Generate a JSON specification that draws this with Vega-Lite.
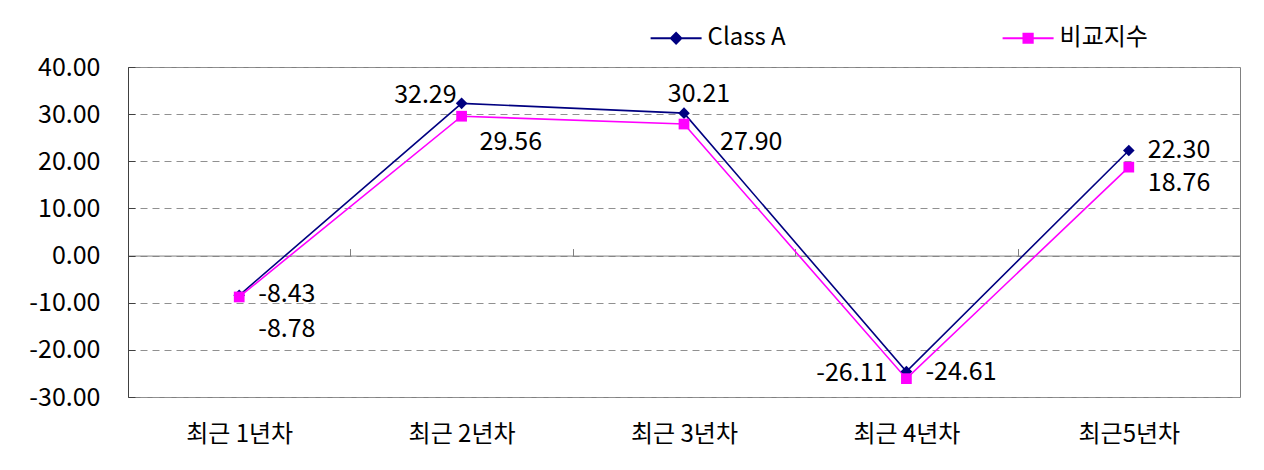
{
  "$schema": "https://vega.github.io/schema/vega-lite/v6.json",
  "width": 1112,
  "height": 330,
  "autosize": "none",
  "padding": {"left": 128, "top": 67, "right": 24, "bottom": 73},
  "background": "white",
  "config": {
    "font": "Noto Sans CJK KR",
    "locale": {"number": {"decimal": ".", "thousands": ",", "grouping": [3], "currency": ["$", ""], "minus": "-"}},
    "view": {"stroke": "#808080", "strokeWidth": 1},
    "axis": {"labelFont": "Noto Sans CJK KR", "labelFontSize": 24, "labelColor": "#000000"},
    "legend": {"padding": 0}
  },
  "data": {
    "values": [
      {"period": "최근 1년차", "series": "Class A", "value": -8.43},
      {"period": "최근 2년차", "series": "Class A", "value": 32.29},
      {"period": "최근 3년차", "series": "Class A", "value": 30.21},
      {"period": "최근 4년차", "series": "Class A", "value": -24.61},
      {"period": "최근5년차", "series": "Class A", "value": 22.30},
      {"period": "최근 1년차", "series": "비교지수", "value": -8.78},
      {"period": "최근 2년차", "series": "비교지수", "value": 29.56},
      {"period": "최근 3년차", "series": "비교지수", "value": 27.90},
      {"period": "최근 4년차", "series": "비교지수", "value": -26.11},
      {"period": "최근5년차", "series": "비교지수", "value": 18.76}
    ]
  },
  "encoding": {
    "x": {
      "field": "period", "type": "nominal", "sort": null,
      "scale": {"type": "band", "paddingInner": 0, "paddingOuter": 0},
      "axis": {
        "title": null, "orient": "bottom", "offset": -141.43,
        "domainColor": "#808080", "tickColor": "#808080", "tickSize": -7,
        "tickBand": "extent", "labelPadding": 186, "labelBaseline": "middle",
        "labelAngle": 0, "grid": false
      }
    },
    "y": {
      "field": "value", "type": "quantitative",
      "scale": {"domain": [-30, 40], "nice": false, "zero": false},
      "axis": {
        "title": null, "values": [-30, -20, -10, 0, 10, 20, 30, 40], "format": ".2f",
        "grid": true, "gridDash": [7, 5], "gridColor": "#909090",
        "domainColor": "#404040", "tickColor": "#404040", "tickSize": -7,
        "labelPadding": 35, "labelFontSize": 25
      }
    }
  },
  "layer": [
    {
      "mark": {"type": "line", "strokeWidth": 1.6},
      "encoding": {
        "color": {
          "field": "series", "type": "nominal",
          "scale": {"domain": ["Class A", "비교지수"], "range": ["#000080", "#FF00FF"]},
          "legend": {
            "orient": "none", "legendX": 522.6, "legendY": -54.5, "direction": "horizontal",
            "title": null, "labelFontSize": 24, "labelFont": "Noto Sans CJK KR", "labelColor": "#000000",
            "symbolSize": 2601, "labelOffset": 6, "columnPadding": 216, "symbolStrokeWidth": 0,
            "encode": {
              "symbols": {
                "update": {
                  "shape": {"signal": "datum.value === 'Class A' ? 'M-1,-0.035H1V0.035H-1Z M-0.26,0L0,-0.26L0.26,0L0,0.26Z' : 'M-1,-0.035H1V0.035H-1Z M-0.22,-0.22H0.22V0.22H-0.22Z'"},
                  "fill": {"signal": "scale('color', datum.value)"},
                  "fillOpacity": {"value": 1},
                  "opacity": {"value": 1},
                  "strokeWidth": {"value": 0}
                }
              }
            }
          }
        }
      }
    },
    {
      "transform": [{"filter": "datum.series === 'Class A'"}],
      "mark": {"type": "point", "filled": true, "opacity": 1, "size": 135, "shape": "diamond", "color": "#000080"}
    },
    {
      "transform": [{"filter": "datum.series === '비교지수'"}],
      "mark": {"type": "point", "filled": true, "opacity": 1, "size": 115, "shape": "square", "color": "#FF00FF"}
    },
    {
      "transform": [{"filter": "datum.series === 'Class A' && (datum.period === '최근 4년차' || datum.period === '최근5년차')"}],
      "mark": {"type": "text", "align": "left", "baseline": "middle", "dx": 19, "dy": 0, "fontSize": 25, "font": "Noto Sans CJK KR", "color": "#000000"},
      "encoding": {"text": {"field": "value", "type": "quantitative", "format": ".2f"}}
    },
    {
      "transform": [{"filter": "datum.series === 'Class A' && datum.period === '최근 1년차'"}],
      "mark": {"type": "text", "align": "left", "baseline": "middle", "dx": 19, "dy": -1, "fontSize": 25, "font": "Noto Sans CJK KR", "color": "#000000"},
      "encoding": {"text": {"field": "value", "type": "quantitative", "format": ".2f"}}
    },
    {
      "transform": [{"filter": "datum.series === 'Class A' && datum.period === '최근 2년차'"}],
      "mark": {"type": "text", "align": "right", "baseline": "middle", "dx": -5, "dy": -8, "fontSize": 25, "font": "Noto Sans CJK KR", "color": "#000000"},
      "encoding": {"text": {"field": "value", "type": "quantitative", "format": ".2f"}}
    },
    {
      "transform": [{"filter": "datum.series === 'Class A' && datum.period === '최근 3년차'"}],
      "mark": {"type": "text", "align": "center", "baseline": "middle", "dx": 15, "dy": -19, "fontSize": 25, "font": "Noto Sans CJK KR", "color": "#000000"},
      "encoding": {"text": {"field": "value", "type": "quantitative", "format": ".2f"}}
    },
    {
      "transform": [{"filter": "datum.series === '비교지수' && datum.period === '최근 1년차'"}],
      "mark": {"type": "text", "align": "left", "baseline": "middle", "dx": 19, "dy": 32, "fontSize": 25, "font": "Noto Sans CJK KR", "color": "#000000"},
      "encoding": {"text": {"field": "value", "type": "quantitative", "format": ".2f"}}
    },
    {
      "transform": [{"filter": "datum.series === '비교지수' && datum.period === '최근 2년차'"}],
      "mark": {"type": "text", "align": "left", "baseline": "middle", "dx": 18, "dy": 26, "fontSize": 25, "font": "Noto Sans CJK KR", "color": "#000000"},
      "encoding": {"text": {"field": "value", "type": "quantitative", "format": ".2f"}}
    },
    {
      "transform": [{"filter": "datum.series === '비교지수' && datum.period === '최근 3년차'"}],
      "mark": {"type": "text", "align": "left", "baseline": "middle", "dx": 36, "dy": 18, "fontSize": 25, "font": "Noto Sans CJK KR", "color": "#000000"},
      "encoding": {"text": {"field": "value", "type": "quantitative", "format": ".2f"}}
    },
    {
      "transform": [{"filter": "datum.series === '비교지수' && datum.period === '최근 4년차'"}],
      "mark": {"type": "text", "align": "right", "baseline": "middle", "dx": -19, "dy": -6, "fontSize": 25, "font": "Noto Sans CJK KR", "color": "#000000"},
      "encoding": {"text": {"field": "value", "type": "quantitative", "format": ".2f"}}
    },
    {
      "transform": [{"filter": "datum.series === '비교지수' && datum.period === '최근5년차'"}],
      "mark": {"type": "text", "align": "left", "baseline": "middle", "dx": 19, "dy": 16, "fontSize": 25, "font": "Noto Sans CJK KR", "color": "#000000"},
      "encoding": {"text": {"field": "value", "type": "quantitative", "format": ".2f"}}
    }
  ]
}
